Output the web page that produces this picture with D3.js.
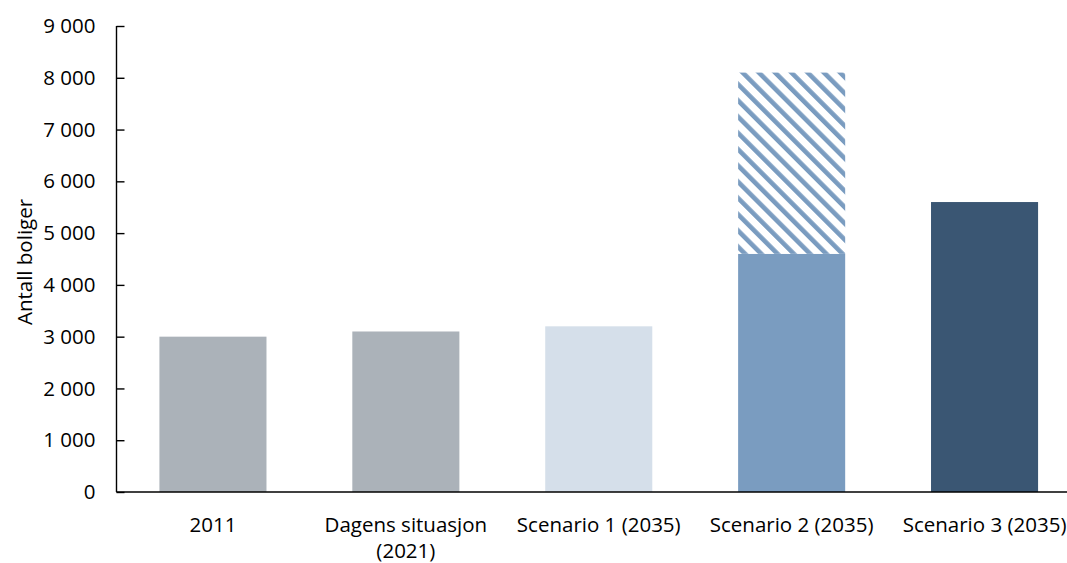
<!DOCTYPE html>
<html>
<head>
<meta charset="utf-8">
<script src="https://cdn.jsdelivr.net/npm/d3@7"></script>
<style>
  html, body { margin: 0; padding: 0; background: #fff; }
  svg { display: block; }
  text { font-family: "Open Sans", Lato, sans-serif; fill: #000; }
</style>
</head>
<body>
<svg id="chart" width="1067" height="563"></svg>
<script>
const categories = ["2011", "Dagens situasjon\n(2021)", "Scenario 1 (2035)", "Scenario 2 (2035)", "Scenario 3 (2035)"];
const baseValues = [3000, 3100, 3200, 4600, 5600];
const extraValues = [0, 0, 0, 3500, 0];
const barColors = ["#ABB2B9", "#ABB2B9", "#D5DFEA", "#7A9CC0", "#3A5673"];
const hatchColor = "#7A9CC0";
const yTicks = [0, 1000, 2000, 3000, 4000, 5000, 6000, 7000, 8000, 9000];
const yLabel = "Antall boliger";

(function () {
const svg = d3.select("#chart");
const mLeft = 116.5, mRight = 1081, mTop = 26, mBottom = 492;
const FONT = "'Open Sans', Lato, sans-serif";
const FS = 20.5;

const x = d3.scaleBand().domain(categories).range([mLeft, mRight]).paddingInner(0.445).paddingOuter(0.2225);
const y = d3.scaleLinear().domain([0, 9000]).range([mBottom, mTop]);

const loc = d3.formatLocale({decimal: ",", thousands: " ", grouping: [3], currency: ["", ""]});
const fmt = loc.format(",");

// hatch pattern
const defs = svg.append("defs");
const pat = defs.append("pattern")
  .attr("id", "hatch")
  .attr("patternUnits", "userSpaceOnUse")
  .attr("width", 11.5).attr("height", 11.5)
  .attr("patternTransform", "rotate(-45)");
pat.append("rect").attr("width", 11.5).attr("height", 11.5).attr("fill", "#fff");
pat.append("rect").attr("width", 4.6).attr("height", 11.5).attr("fill", hatchColor);

// bars
svg.append("g").selectAll("rect.base").data(categories).join("rect")
  .attr("class", "base")
  .attr("x", d => x(d))
  .attr("width", x.bandwidth())
  .attr("y", (d, i) => y(baseValues[i]))
  .attr("height", (d, i) => y(0) - y(baseValues[i]))
  .attr("fill", (d, i) => barColors[i]);

svg.append("g").selectAll("rect.extra").data(categories.filter((d, i) => extraValues[i] > 0)).join("rect")
  .attr("class", "extra")
  .attr("x", d => x(d))
  .attr("width", x.bandwidth())
  .attr("y", d => { const i = categories.indexOf(d); return y(baseValues[i] + extraValues[i]); })
  .attr("height", d => { const i = categories.indexOf(d); return y(baseValues[i]) - y(baseValues[i] + extraValues[i]); })
  .attr("fill", "url(#hatch)");

// y axis
const yAxis = svg.append("g")
  .attr("transform", `translate(${mLeft},0)`)
  .call(d3.axisLeft(y).tickValues(yTicks).tickFormat(fmt).tickSize(-8).tickPadding(21));
yAxis.select(".domain").attr("stroke", "#000").attr("stroke-width", 1.4).attr("d", `M0,${mTop}V${mBottom}`);
yAxis.selectAll(".tick line").attr("stroke", "#000").attr("stroke-width", 1.4);
yAxis.selectAll(".tick text").attr("font-size", FS).style("font-family", FONT).attr("fill", "#000");

// x axis
const xAxis = svg.append("g")
  .attr("transform", `translate(0,${mBottom})`)
  .call(d3.axisBottom(x).tickSize(0).tickPadding(0));
xAxis.select(".domain").attr("stroke", "#000").attr("stroke-width", 1.6).attr("d", `M${mLeft},0H1067`);
xAxis.selectAll(".tick text").each(function(d) {
  const t = d3.select(this);
  const lines = d.split("\n");
  t.text(null).attr("y", 0).attr("dy", null).attr("font-size", FS).style("font-family", FONT).attr("fill", "#000");
  lines.forEach((ln, k) => {
    t.append("tspan").attr("x", 0).attr("y", 40 + k * 26).text(ln);
  });
});

// y label
svg.append("text")
  .attr("transform", `translate(32,262) rotate(-90)`)
  .attr("text-anchor", "middle")
  .attr("font-size", FS)
  .style("font-family", FONT)
  .text(yLabel);
})();
</script>
</body>
</html>
